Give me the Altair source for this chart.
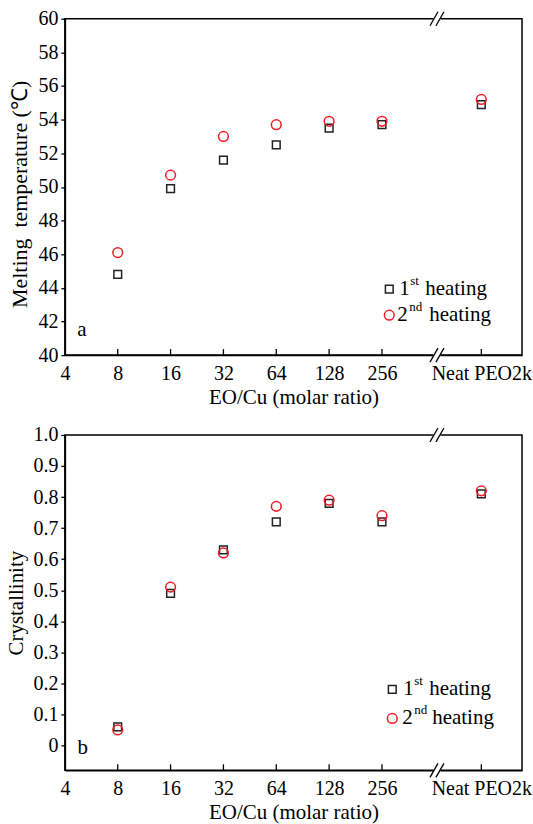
import altair as alt
import pandas as pd

# ---------------- data ----------------
x_categories = ["8", "16", "32", "64", "128", "256", "Neat PEO2k"]
tm_1st = [44.8, 49.9, 51.6, 52.5, 53.5, 53.7, 54.9]
tm_2nd = [46.1, 50.7, 53.0, 53.7, 53.9, 53.9, 55.2]
xc_1st = [0.06, 0.49, 0.63, 0.72, 0.78, 0.72, 0.81]
xc_2nd = [0.05, 0.51, 0.62, 0.77, 0.79, 0.74, 0.82]
tick_labels = ["4", "8", "16", "32", "64", "128", "256", "Neat PEO2k"]
tm_ticks = [40, 42, 44, 46, 48, 50, 52, 54, 56, 58, 60]
xc_ticks = [0, 0.1, 0.2, 0.3, 0.4, 0.5, 0.6, 0.7, 0.8, 0.9, 1.0]

# ---------------- layout of the broken x axis ----------------
tick_pos = [0, 1, 2, 3, 4, 5, 6, 7.88]
pos_of = dict(zip(tick_labels, tick_pos))
BREAK = 7.05
XMAX = 8.65

FONT = "Times New Roman, Liberation Serif, serif"
FS = 20
W = 458

label_expr = ""
for p, l in zip(tick_pos, tick_labels):
    label_expr += f"abs(datum.value - {p}) < 0.01 ? '{l}' : "
label_expr += "''"

xscale = alt.Scale(domain=[0, XMAX], nice=False, zero=False)
xaxis = alt.Axis(values=tick_pos, labelExpr=label_expr, title="EO/Cu (molar ratio)",
                 ticks=False, tickSize=0, grid=False, labelFlush=False, labelPadding=8,
                 titlePadding=3, labelOverlap=False, titleFontSize=21)


def panel(first, second, ydom, yvals, ytitle, ylabel_expr, H, letter, letter_xy, leg,
          title_fs, title_shift):
    df = pd.DataFrame({"pos": [pos_of[c] for c in x_categories],
                       "first": first, "second": second})
    yscale = alt.Scale(domain=ydom, nice=False, zero=False)
    yaxis = alt.Axis(values=yvals, labelExpr=ylabel_expr, title=ytitle, grid=False,
                     tickSize=4, labelPadding=3, titlePadding=6, titleFontSize=title_fs,
                     titleY=H / 2 + title_shift)
    x = alt.X("pos:Q", scale=xscale, axis=xaxis)

    base = alt.Chart(df)
    sq = base.mark_point(shape="square", filled=False, color="#222222", size=60,
                         strokeWidth=1.5, opacity=1).encode(
        x=x, y=alt.Y("first:Q", scale=yscale, axis=yaxis))
    ci = base.mark_point(shape="circle", filled=False, color="#ee1c24", size=95,
                         strokeWidth=1.5, opacity=1).encode(
        x=x, y=alt.Y("second:Q", scale=yscale, axis=yaxis))

    tdf = pd.DataFrame({"pos": tick_pos[1:]})
    ticks = alt.Chart(tdf).mark_rule(color="black", strokeWidth=1.3).encode(
        x=alt.X("pos:Q", scale=xscale, axis=xaxis), y=alt.value(H), y2=alt.value(H - 6))

    one = alt.Chart(pd.DataFrame({"a": [0]}))
    layers = [sq, ci, ticks]
    # axis break marks, on top and bottom
    for yy in (0, H):
        layers.append(one.mark_rect(color="white", xOffset=-4, x2Offset=3).encode(
            x=alt.datum(BREAK), x2=alt.datum(BREAK), y=alt.value(yy - 3), y2=alt.value(yy + 3)))
        for dx in (-7.5, -1.5):
            layers.append(one.mark_rule(color="black", strokeWidth=1.3,
                                        xOffset=dx, x2Offset=dx + 8).encode(
                x=alt.datum(BREAK), x2=alt.datum(BREAK),
                y=alt.value(yy + 7), y2=alt.value(yy - 7)))

    # panel letter
    layers.append(one.mark_text(text=letter, font=FONT, fontSize=21, align="center",
                                baseline="alphabetic", color="black").encode(
        x=alt.value(letter_xy[0]), y=alt.value(letter_xy[1])))

    # legend
    (sx, sy, cy, t1, s1, h1, t2, s2, h2) = leg
    layers.append(one.mark_point(shape="square", filled=False, color="#222222", size=60,
                                 strokeWidth=1.5, opacity=1).encode(
        x=alt.value(sx), y=alt.value(sy)))
    layers.append(one.mark_point(shape="circle", filled=False, color="#ee1c24", size=95,
                                 strokeWidth=1.5, opacity=1).encode(
        x=alt.value(sx), y=alt.value(cy)))
    for txt, px, py, fs in [("1", t1, sy + 6, 21), ("st", s1, sy - 4, 13),
                            ("heating", h1, sy + 6, 21),
                            ("2", t2, cy + 6, 21), ("nd", s2, cy - 4, 13),
                            ("heating", h2, cy + 6, 21)]:
        layers.append(one.mark_text(text=txt, font=FONT, fontSize=fs, align="left",
                                    baseline="alphabetic", color="black").encode(
            x=alt.value(px), y=alt.value(py)))

    return alt.layer(*layers).properties(width=W, height=H)


top = panel(tm_1st, tm_2nd, [40, 60], tm_ticks, "Melting\u00a0 temperature (\u2103)",
            "format(datum.value, 'd')", 337, "a", (17, 318),
            (325, 271, 297, 335, 346, 361, 333, 345, 365), 22, 7)
bottom = panel(xc_1st, xc_2nd, [-0.08, 1.0], xc_ticks, "Crystallinity",
               "datum.value == 0 ? '0' : format(datum.value, '.1f')", 336, "b", (18, 320),
               (328, 255, 284, 339, 350, 365, 338, 350, 368), 21, 0)

chart = alt.vconcat(top, bottom, spacing=16).properties(
    padding={"left": 5, "top": 7, "right": 0, "bottom": 0},
    background="white",
).configure_view(stroke="black", strokeWidth=1.5).configure_axis(
    domainColor="black", domainWidth=1.5, tickColor="black", tickWidth=1.3,
    labelFont=FONT, labelFontSize=FS, labelColor="black",
    titleFont=FONT, titleFontSize=FS, titleColor="black", titleFontWeight="normal",
)

chart.save("out.html", embed_options={"renderer": "svg", "actions": False})
